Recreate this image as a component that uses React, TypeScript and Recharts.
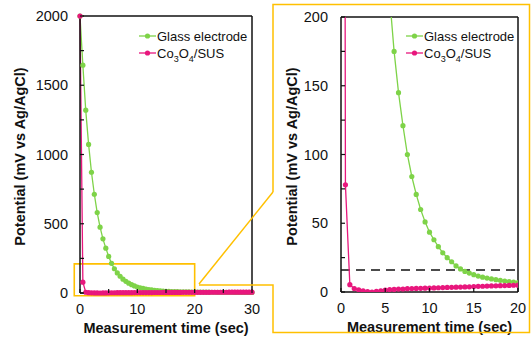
import { Label, Legend, Line, LineChart, ReferenceArea, ReferenceLine, XAxis, YAxis } from 'recharts'

const FONT = '"Liberation Sans", Arial, sans-serif'
const GREEN = '#7ed348'
const PINK = '#e8177d'
const ORANGE = '#ffc000'
const INK = '#111'

// measurement time (sec), every 0.5 s
const TIME = [
  0, 0.5, 1, 1.5, 2, 2.5, 3, 3.5, 4, 4.5, 5, 5.5, 6, 6.5, 7, 7.5, 8, 8.5, 9, 9.5,
  10, 10.5, 11, 11.5, 12, 12.5, 13, 13.5, 14, 14.5, 15, 15.5, 16, 16.5, 17, 17.5, 18, 18.5, 19, 19.5,
  20, 20.5, 21, 21.5, 22, 22.5, 23, 23.5, 24, 24.5, 25, 25.5, 26, 26.5, 27, 27.5, 28, 28.5, 29, 29.5, 30,
]

// potential (mV vs Ag/AgCl)
const GLASS = [
  2000, 1645, 1320, 1073, 872, 713, 581, 475, 391, 324, 264, 214, 175, 145, 121, 100, 84, 71, 60, 51,
  43.5, 38, 33, 28.5, 25, 22, 19, 16.8, 15, 13.8, 12.6, 11.6, 10.8, 10.1, 9.5, 9, 8.5, 8, 7.6, 7.2,
  6.9, 6.6, 6.3, 6.1, 5.9, 5.7, 5.5, 5.3, 5.2, 5.0, 4.9, 4.8, 4.7, 4.6, 4.5, 4.4, 4.3, 4.2, 4.1, 4.0, 4.0,
]
const CO3O4_SUS = [
  2000, 78, 5.3, 2.5, 1.5, 0.9, 0.3, 0, 0.4, 0.9, 1.4, 1.7, 1.9, 2.1, 2.2, 2.4, 2.5, 2.6, 2.7, 2.8,
  2.9, 3.0, 3.1, 3.2, 3.3, 3.4, 3.5, 3.6, 3.7, 3.8, 4.0, 4.1, 4.2, 4.3, 4.4, 4.5, 4.6, 4.7, 4.8, 4.9,
  5.0, 5.0, 5.1, 5.1, 5.2, 5.2, 5.3, 5.3, 5.4, 5.4, 5.5, 5.5, 5.6, 5.6, 5.7, 5.7, 5.8, 5.8, 5.9, 5.9, 6.0,
]

const LEFT_X_TICKS = [0, 5, 10, 15, 20, 25, 30]
const LEFT_X_LABELS = [0, 10, 20, 30]
const LEFT_Y_TICKS = [0, 250, 500, 750, 1000, 1250, 1500, 1750, 2000]
const LEFT_Y_LABELS = [0, 500, 1000, 1500, 2000]
const RIGHT_X_TICKS = [0, 5, 10, 15, 20]
const RIGHT_Y_TICKS = [0, 25, 50, 75, 100, 125, 150, 175, 200]
const RIGHT_Y_LABELS = [0, 50, 100, 150, 200]
const THRESHOLD = 16

const fullData = TIME.map((t, i) => ({ t, glass: GLASS[i], co: CO3O4_SUS[i] }))
const zoomData = fullData.filter((d) => d.t <= 20)

const textStyle = { fontFamily: FONT, fontSize: 14.5, fill: INK }

function yTick(props: any, labels: number[], gap: number) {
  const { x, y, payload } = props
  const v = payload.value
  return (
    <g>
      <line x1={x} x2={x + 4} y1={y} y2={y} stroke={INK} strokeWidth={1.2} />
      {labels.includes(v) && (
        <text x={x - gap} y={y} textAnchor="end" dominantBaseline="central" {...textStyle}>
          {v}
        </text>
      )}
    </g>
  )
}

function xTick(props: any, labels: number[]) {
  const { x, y, payload } = props
  const v = payload.value
  return (
    <g>
      <line x1={x} x2={x} y1={y} y2={y - 4} stroke={INK} strokeWidth={1.2} />
      {labels.includes(v) && (
        <text x={x} y={y + 21} textAnchor="middle" {...textStyle}>
          {v}
        </text>
      )}
    </g>
  )
}

function XTitle({ viewBox }: any) {
  return (
    <text
      x={viewBox.x + viewBox.width / 2}
      y={viewBox.y + 40}
      textAnchor="middle"
      {...textStyle}
      fontWeight="bold"
    >
      Measurement time (sec)
    </text>
  )
}

function yTitle(cx: number) {
  return function YTitle({ viewBox }: any) {
    const cy = viewBox.y + viewBox.height / 2 + 2
    return (
      <text
        x={cx}
        y={cy}
        transform={`rotate(-90 ${cx} ${cy})`}
        textAnchor="middle"
        dominantBaseline="central"
        {...textStyle}
        fontWeight="bold"
      >
        Potential (mV vs Ag/AgCl)
      </text>
    )
  }
}

function LegendRow({ color, children }: { color: string; children: any }) {
  return (
    <div style={{ display: 'flex', alignItems: 'center', height: 17, whiteSpace: 'nowrap' }}>
      <svg width={18} height={10} style={{ display: 'block' }}>
        <line x1={0} x2={17} y1={5} y2={5} stroke={color} strokeWidth={1.3} />
        <circle cx={8.5} cy={5} r={2.6} fill={color} />
      </svg>
      <span>{children}</span>
    </div>
  )
}

function LegendBox() {
  return (
    <div style={{ fontFamily: FONT, fontSize: 13, color: INK, lineHeight: '17px' }}>
      <LegendRow color={GREEN}>Glass electrode</LegendRow>
      <LegendRow color={PINK}>
        Co<sub style={{ fontSize: 9, lineHeight: 0 }}>3</sub>O
        <sub style={{ fontSize: 9, lineHeight: 0 }}>4</sub>/SUS
      </LegendRow>
    </div>
  )
}

export default function App() {
  const dot = (color: string) => ({ r: 2.6, fill: color, stroke: 'none' })
  return (
    <div
      style={{
        position: 'absolute',
        left: 0,
        top: 0,
        width: 531,
        height: 342,
        background: '#fff',
        overflow: 'hidden',
      }}
    >
      <div style={{ position: 'absolute', left: 0, top: 0 }}>
        <LineChart width={265} height={342} data={fullData} margin={{ top: 16, right: 13, bottom: 9, left: 0 }}>
          <XAxis
            dataKey="t"
            type="number"
            domain={[0, 30]}
            ticks={LEFT_X_TICKS}
            tickSize={0}
            tickMargin={0}
            height={40}
            axisLine={{ stroke: INK, strokeWidth: 1.5 }}
            tick={(p: any) => xTick(p, LEFT_X_LABELS)}
            interval={0}
          >
            <Label content={XTitle} />
          </XAxis>
          <YAxis
            type="number"
            domain={[0, 2000]}
            ticks={LEFT_Y_TICKS}
            tickSize={0}
            tickMargin={0}
            width={80}
            axisLine={{ stroke: INK, strokeWidth: 1.5 }}
            tick={(p: any) => yTick(p, LEFT_Y_LABELS, 12)}
            interval={0}
          >
            <Label content={yTitle(20)} />
          </YAxis>
          <ReferenceLine y={2000} stroke={INK} strokeWidth={1.5} />
          <ReferenceLine x={30} stroke={INK} strokeWidth={1.5} />
          <Legend
            layout="vertical"
            align="center"
            verticalAlign="middle"
            content={<LegendBox />}
            wrapperStyle={{ left: 139, top: 27.5, width: 'auto', height: 'auto' }}
          />
          <Line
            dataKey="glass"
            stroke={GREEN}
            strokeWidth={1.3}
            dot={dot(GREEN)}
            isAnimationActive={false}
          />
          <Line dataKey="co" stroke={PINK} strokeWidth={1.3} dot={dot(PINK)} isAnimationActive={false} />
          <ReferenceArea
            x1={-1}
            x2={20}
            y1={-20}
            y2={210}
            ifOverflow="visible"
            fill="none"
            stroke={ORANGE}
            strokeWidth={1.6}
          />
        </LineChart>
      </div>

      <div style={{ position: 'absolute', left: 260, top: 0 }}>
        <LineChart width={271} height={342} data={zoomData} margin={{ top: 17, right: 13, bottom: 9, left: 0 }}>
          <XAxis
            dataKey="t"
            type="number"
            domain={[0, 20]}
            ticks={RIGHT_X_TICKS}
            allowDataOverflow
            tickSize={0}
            tickMargin={0}
            height={41}
            axisLine={{ stroke: INK, strokeWidth: 1.5 }}
            tick={(p: any) => xTick(p, RIGHT_X_TICKS)}
            interval={0}
          >
            <Label content={XTitle} />
          </XAxis>
          <YAxis
            type="number"
            domain={[0, 200]}
            ticks={RIGHT_Y_TICKS}
            allowDataOverflow
            tickSize={0}
            tickMargin={0}
            width={81}
            axisLine={{ stroke: INK, strokeWidth: 1.5 }}
            tick={(p: any) => yTick(p, RIGHT_Y_LABELS, 13)}
            interval={0}
          >
            <Label content={yTitle(32)} />
          </YAxis>
          <ReferenceLine y={200} stroke={INK} strokeWidth={1.5} />
          <ReferenceLine x={20} stroke={INK} strokeWidth={1.5} />
          <ReferenceLine y={THRESHOLD} stroke={INK} strokeWidth={1.5} strokeDasharray="9 6" />
          <Legend
            layout="vertical"
            align="center"
            verticalAlign="middle"
            content={<LegendBox />}
            wrapperStyle={{ left: 146, top: 27.5, width: 'auto', height: 'auto' }}
          />
          <Line
            dataKey="glass"
            stroke={GREEN}
            strokeWidth={1.3}
            dot={dot(GREEN)}
            isAnimationActive={false}
          />
          <Line dataKey="co" stroke={PINK} strokeWidth={1.3} dot={dot(PINK)} isAnimationActive={false} />
        </LineChart>
      </div>

      {/* callout from the zoom box to the right panel */}
      <svg
        width={531}
        height={342}
        style={{ position: 'absolute', left: 0, top: 0, pointerEvents: 'none' }}
      >
        <polyline
          points="273,192 273,4.5 529.5,4.5 529.5,332.5 273,332.5 273,285 199,285"
          fill="none"
          stroke={ORANGE}
          strokeWidth={1.5}
        />
        <line x1={199} y1={284} x2={273} y2={192} stroke={ORANGE} strokeWidth={1.5} />
      </svg>
    </div>
  )
}
